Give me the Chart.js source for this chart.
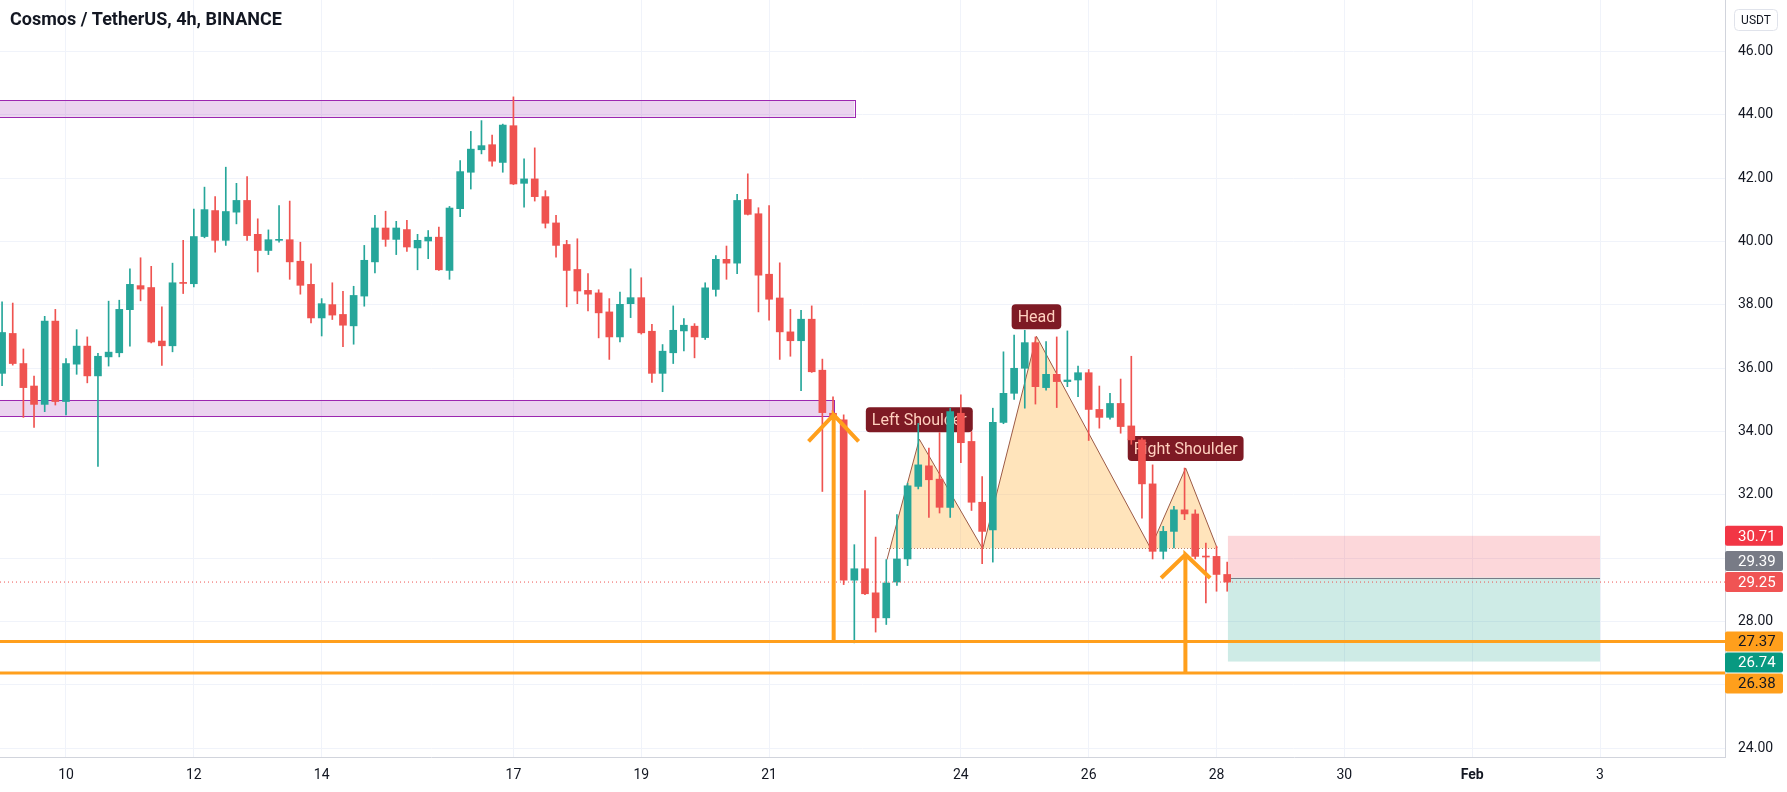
<!DOCTYPE html>
<html>
<head>
<meta charset="utf-8">
<script src="https://cdn.jsdelivr.net/npm/chart.js@4.4.1/dist/chart.umd.min.js"></script>
<style>
  html, body { margin: 0; padding: 0; background: #ffffff; }
  #wrap { width: 1787px; height: 792px; position: relative; }
</style>
</head>
<body>
<div id="wrap"><canvas id="chart"></canvas></div>
<script>
// ATOM/USDT 4h candles, first one opens Jan 9 00:00
const startDay = 9;
const candleStep = 1 / 6;

const opens = [
  35.84, 37.10, 36.15, 35.44, 34.86, 37.49, 34.95, 36.13, 36.70, 35.76,
  36.36, 36.49, 37.85, 38.61, 38.55, 36.86, 36.71, 38.70, 38.67, 40.16,
  40.98, 40.04, 40.93, 41.30, 40.23, 39.72, 40.04, 40.06, 39.38, 38.65,
  37.59, 38.01, 37.70, 37.34, 38.28, 39.36, 40.43, 40.07, 40.38, 39.80,
  40.02, 40.14, 39.09, 41.04, 42.19, 42.90, 43.06, 42.50, 43.66, 41.84,
  41.98, 41.42, 40.59, 39.91, 39.12, 38.46, 38.38, 37.78, 36.99, 38.04,
  38.23, 37.17, 35.84, 36.49, 37.18, 37.33, 36.97, 38.49, 39.44, 39.32,
  41.33, 40.88, 38.97, 38.22, 37.15, 36.87, 37.55, 35.94, 34.58, 34.37,
  29.31, 29.67, 28.91, 28.12, 29.25, 29.98, 32.27, 32.92, 32.50, 31.61,
  34.58, 33.69, 31.77, 30.90, 34.29, 35.21, 36.00, 36.81, 35.39, 35.81,
  35.58, 35.63, 35.86, 34.70, 34.45, 34.89, 34.18, 33.74, 32.35, 30.22,
  30.85, 31.53, 31.40, 30.06, 30.06, 29.49
];
const highs = [
  38.10, 38.06, 36.61, 35.75, 37.64, 37.86, 36.31, 37.22, 36.99, 36.47,
  38.12, 38.15, 39.14, 39.49, 39.22, 37.94, 39.32, 40.04, 41.03, 41.72,
  41.42, 42.35, 41.84, 42.05, 40.72, 40.37, 41.14, 41.28, 39.98, 39.30,
  38.20, 38.70, 38.43, 38.59, 39.88, 40.83, 40.96, 40.64, 40.67, 40.23,
  40.35, 40.46, 41.11, 42.56, 43.48, 43.82, 43.36, 43.71, 44.57, 42.61,
  42.96, 41.61, 40.83, 40.04, 40.09, 38.99, 38.48, 38.20, 38.41, 39.14,
  38.86, 37.39, 36.75, 37.97, 37.57, 37.41, 38.70, 39.56, 39.86, 41.49,
  42.14, 41.07, 41.14, 39.33, 37.86, 37.83, 37.97, 36.29, 35.10, 34.53,
  30.43, 32.14, 30.67, 29.96, 31.38, 32.37, 34.26, 33.48, 33.97, 34.74,
  35.16, 34.00, 32.58, 34.74, 36.52, 37.05, 37.20, 36.99, 36.84, 36.99,
  37.18, 36.07, 35.96, 35.44, 35.21, 35.66, 36.38, 33.80, 32.95, 31.01,
  31.64, 32.85, 31.53, 30.48, 30.38, 29.88
];
const lows = [
  35.45, 36.10, 34.45, 34.13, 34.63, 34.84, 34.53, 35.81, 35.54, 32.90,
  36.07, 36.36, 36.70, 38.13, 36.80, 36.09, 36.52, 38.36, 38.57, 40.12,
  39.67, 39.88, 40.56, 40.04, 39.04, 39.59, 39.98, 38.81, 38.34, 37.43,
  37.02, 37.54, 36.68, 36.76, 37.96, 39.01, 39.85, 39.59, 39.69, 39.11,
  39.46, 39.09, 38.81, 40.79, 41.66, 42.77, 42.38, 42.19, 41.80, 41.09,
  41.28, 40.43, 39.51, 37.94, 38.04, 37.81, 36.96, 36.28, 36.83, 37.60,
  37.08, 35.55, 35.26, 36.15, 36.55, 36.33, 36.91, 38.28, 38.81, 38.99,
  40.84, 37.78, 37.52, 36.28, 36.38, 35.29, 35.87, 32.11, 33.63, 29.17,
  27.33, 28.85, 27.67, 27.91, 29.14, 29.77, 32.19, 31.29, 31.43, 31.29,
  33.02, 31.51, 29.83, 29.88, 34.25, 35.02, 34.74, 34.87, 35.31, 34.76,
  35.42, 35.10, 33.72, 34.11, 34.39, 33.95, 33.60, 31.27, 29.98, 29.98,
  30.33, 31.22, 29.98, 28.59, 28.96, 28.96
];
const closes = [
  37.13, 36.15, 35.39, 34.86, 37.49, 34.95, 36.15, 36.70, 35.76, 36.38,
  36.51, 37.86, 38.65, 38.50, 36.83, 36.71, 38.70, 38.68, 40.16, 41.01,
  40.04, 40.95, 41.30, 40.19, 39.72, 40.06, 40.06, 39.36, 38.62, 37.59,
  38.04, 37.68, 37.36, 38.30, 39.41, 40.43, 40.07, 40.43, 39.83, 40.04,
  40.14, 39.11, 41.06, 42.21, 42.92, 43.03, 42.54, 43.68, 41.82, 41.98,
  41.42, 40.58, 39.88, 39.09, 38.44, 38.34, 37.75, 36.99, 38.02, 38.23,
  37.12, 35.84, 36.54, 37.20, 37.36, 36.99, 38.54, 39.44, 39.32, 41.30,
  40.86, 38.94, 38.18, 37.15, 36.87, 37.55, 35.89, 34.60, 34.39, 29.31,
  29.67, 28.88, 28.12, 29.22, 29.98, 32.29, 32.95, 32.48, 31.61, 34.63,
  33.65, 31.77, 30.85, 34.29, 35.21, 36.00, 36.81, 35.42, 35.81, 35.58,
  35.63, 35.86, 34.70, 34.45, 34.89, 34.16, 33.74, 32.35, 30.22, 30.85,
  31.53, 31.40, 30.06, 30.04, 29.49, 29.25
];

// axis ticks (x in Jan day numbers, 32 = Feb 1)
const xTicks = [10, 12, 14, 17, 19, 21, 24, 26, 28, 30, 32, 34];
const xTickLabels = ['10', '12', '14', '17', '19', '21', '24', '26', '28', '30', 'Feb', '3'];
const yTicks = [24, 26, 28, 30, 32, 34, 36, 38, 40, 42, 44, 46];

// drawings: [startDay, endDay, low, high]
const zones = [
  [8.9, 22.333, 43.94, 44.47],
  [8.9, 22.01, 34.49, 35.00]
];
const orangeLevels = [27.37, 26.38];
// head & shoulders: start, left shoulder, neck, head, neck, right shoulder, end
const hsPoints = [
  [22.845, 29.96], [23.35, 33.76], [24.342, 30.30], [25.183, 37.01],
  [26.967, 30.32], [27.517, 32.85], [28.008, 30.33]
];
const hsNeck = 30.31;
const hsLabels = ['Left Shoulder', 'Head', 'Right Shoulder'];
const hsLabelAt = [1, 3, 5];
// arrows: [leftDay, apexDay, rightDay, wingPrice, apexPrice, footPrice]
const arrows = [
  [21.617, 22.01, 22.40, 33.69, 34.53, 27.37],
  [27.133, 27.513, 27.90, 29.38, 30.12, 26.38]
];
// short position
const posStart = 28.178, posEnd = 34.0;
const posStop = 30.71, posEntry = 29.39, posTarget = 26.74;
const lastPrice = closes[closes.length - 1];
const axisMarks = [30.71, 29.39, 29.25, 27.37, 26.74, 26.38];

const X_MIN = 8.9675, X_MAX = 35.955;
const Y_MIN = 23.726, Y_MAX = 47.629;
const UP = '#26a69a', DOWN = '#ef5350', ORANGE = '#ff9f1c';
const FONT = 'Roboto, "Liberation Sans", sans-serif';

const times = opens.map((_, i) => startDay + i * candleStep);
const colors = opens.map((o, i) => closes[i] >= o ? UP : DOWN);

const datasets = [
  {
    type: 'bar', data: times.map((t, i) => ({x: t, y: [opens[i], closes[i]]})),
    backgroundColor: colors, barThickness: 7, minBarLength: 1, grouped: false, order: 2
  },
  {
    type: 'bar', data: times.map((t, i) => ({x: t, y: [lows[i], highs[i]]})),
    backgroundColor: colors, barThickness: 1, grouped: false, order: 2
  },
  {
    type: 'line', data: hsPoints.map(([x, y]) => ({x, y})),
    borderColor: '#9b5a45', borderWidth: 1, pointRadius: 0, tension: 0,
    fill: {target: {value: hsNeck}, above: 'rgba(255, 183, 77, 0.38)', below: 'rgba(0,0,0,0)'},
    order: 5
  },
  {
    type: 'line', data: [{x: hsPoints[0][0], y: hsNeck}, {x: hsPoints[6][0], y: hsNeck}],
    borderColor: '#b07a66', borderWidth: 1, borderDash: [1, 2], pointRadius: 0, fill: false, order: 5
  },
  {
    type: 'line', data: [{x: X_MIN, y: lastPrice}, {x: X_MAX, y: lastPrice}],
    borderColor: DOWN, borderWidth: 1, borderDash: [1, 3], pointRadius: 0, fill: false, order: 1
  }
];
orangeLevels.forEach(v => datasets.push({
  type: 'line', data: [{x: X_MIN, y: v}, {x: X_MAX, y: v}],
  borderColor: ORANGE, borderWidth: 3, pointRadius: 0, fill: false, order: 0
}));
arrows.forEach(([l, a, r, w, top, foot]) => datasets.push({
  type: 'line',
  data: [{x: l, y: w}, {x: a, y: top}, {x: r, y: w}, {x: a, y: top}, {x: a, y: foot}],
  borderColor: ORANGE, borderWidth: 4, borderJoinStyle: 'miter', pointRadius: 0, fill: false, order: 0
}));

function roundBox(ctx, x, y, w, h, r) {
  ctx.beginPath();
  ctx.roundRect(x, y, w, h, r);
}

const drawings = {
  id: 'drawings',
  beforeDatasetsDraw(chart) {
    const {ctx, chartArea: a, scales: {x, y}} = chart;
    ctx.save();
    ctx.beginPath();
    ctx.rect(a.left, a.top, a.right - a.left, a.bottom - a.top);
    ctx.clip();

    zones.forEach(([d0, d1, lo, hi]) => {
      const x0 = x.getPixelForValue(d0), x1 = x.getPixelForValue(d1);
      const y0 = y.getPixelForValue(hi), y1 = y.getPixelForValue(lo);
      ctx.fillStyle = 'rgba(156, 39, 176, 0.2)';
      ctx.fillRect(x0, y0, x1 - x0, y1 - y0);
      ctx.strokeStyle = '#9c27b0';
      ctx.lineWidth = 1;
      ctx.strokeRect(Math.round(x0) + 0.5, Math.round(y0) + 0.5, Math.round(x1 - x0), Math.round(y1 - y0));
    });

    const px0 = x.getPixelForValue(posStart), px1 = x.getPixelForValue(posEnd);
    const yS = y.getPixelForValue(posStop), yE = y.getPixelForValue(posEntry), yT = y.getPixelForValue(posTarget);
    ctx.fillStyle = 'rgba(242, 54, 69, 0.2)';
    ctx.fillRect(px0, yS, px1 - px0, yE - yS);
    ctx.fillStyle = 'rgba(8, 153, 129, 0.2)';
    ctx.fillRect(px0, yE, px1 - px0, yT - yE);
    ctx.strokeStyle = '#787b86';
    ctx.beginPath();
    ctx.moveTo(px0, Math.round(yE) + 0.5);
    ctx.lineTo(px1, Math.round(yE) + 0.5);
    ctx.stroke();

    ctx.font = '16px ' + FONT;
    ctx.textAlign = 'center';
    ctx.textBaseline = 'middle';
    hsLabels.forEach((txt, k) => {
      const [d, p] = hsPoints[hsLabelAt[k]];
      const cx = x.getPixelForValue(d), py = y.getPixelForValue(p);
      const w = ctx.measureText(txt).width + 12, h = 25;
      ctx.fillStyle = '#7e1a24';
      roundBox(ctx, cx - w / 2, py - 7 - h, w, h, 4);
      ctx.fill();
      ctx.fillStyle = '#ffd0bf';
      ctx.fillText(txt, cx, py - 7 - h / 2 + 1);
    });
    ctx.restore();
  },
  afterDraw(chart) {
    const {ctx, chartArea: a, scales: {y}} = chart;
    ctx.save();
    ctx.fillStyle = '#131722';
    ctx.font = 'bold 18px ' + FONT;
    ctx.textAlign = 'left';
    ctx.textBaseline = 'middle';
    ctx.fillText('Cosmos / TetherUS, 4h, BINANCE', 10, 20);

    ctx.strokeStyle = '#e0e3eb';
    ctx.lineWidth = 1;
    roundBox(ctx, 1734.5, 9.5, 43, 21, 4);
    ctx.fillStyle = '#ffffff';
    ctx.fill();
    ctx.stroke();
    ctx.fillStyle = '#131722';
    ctx.font = '12px ' + FONT;
    ctx.textAlign = 'center';
    ctx.fillText('USDT', 1756, 20.5);

    // price labels on the axis, pushed apart around the last price
    const style = [
      ['#f23645', '#ffffff'], ['#787b86', '#ffffff'], ['#f05454', '#ffffff'],
      ['#ff9f1c', '#131722'], ['#089981', '#ffffff'], ['#ff9f1c', '#131722']
    ];
    const ys = axisMarks.map(v => y.getPixelForValue(v));
    const fixed = axisMarks.indexOf(lastPrice);
    for (let k = fixed - 1; k >= 0; k--) ys[k] = Math.min(ys[k], ys[k + 1] - 21);
    for (let k = fixed + 1; k < ys.length; k++) ys[k] = Math.max(ys[k], ys[k - 1] + 21);
    ctx.font = '15px ' + FONT;
    ctx.textAlign = 'left';
    axisMarks.forEach((v, k) => {
      ctx.fillStyle = style[k][0];
      roundBox(ctx, a.right, ys[k] - 10, 58, 20, 2);
      ctx.fill();
      ctx.fillStyle = style[k][1];
      ctx.fillText(v.toFixed(2), a.right + 13, ys[k] + 1);
    });
    ctx.restore();
  }
};

new Chart(document.getElementById('chart'), {
  type: 'bar',
  data: {datasets},
  options: {
    responsive: true,
    maintainAspectRatio: false,
    animation: false,
    devicePixelRatio: 1,
    events: [],
    layout: {padding: 0},
    plugins: {legend: {display: false}, tooltip: {enabled: false}},
    scales: {
      x: {
        type: 'linear', min: X_MIN, max: X_MAX, offset: false,
        grid: {color: '#f0f3fa', drawTicks: false, offset: false},
        border: {color: '#d1d4dc'},
        afterBuildTicks: s => { s.ticks = xTicks.map(v => ({value: v})); },
        afterFit: s => { s.height = 35; s.paddingLeft = 0; s.paddingRight = 0; },
        ticks: {
          padding: 10, color: '#131722', maxRotation: 0, autoSkip: false,
          font: c => ({family: FONT, size: 14, weight: c.tick && c.tick.value === 32 ? 'bold' : 'normal'}),
          callback: v => xTickLabels[xTicks.indexOf(v)]
        }
      },
      y: {
        type: 'linear', position: 'right', min: Y_MIN, max: Y_MAX,
        grid: {color: '#f0f3fa', drawTicks: false},
        border: {color: '#d1d4dc'},
        afterBuildTicks: s => { s.ticks = yTicks.map(v => ({value: v})); },
        afterFit: s => { s.width = 62; s.paddingTop = 0; s.paddingBottom = 0; },
        ticks: {padding: 13, color: '#131722', font: {family: FONT, size: 14}, callback: v => v.toFixed(2)}
      }
    }
  },
  plugins: [drawings]
});
</script>
</body>
</html>
